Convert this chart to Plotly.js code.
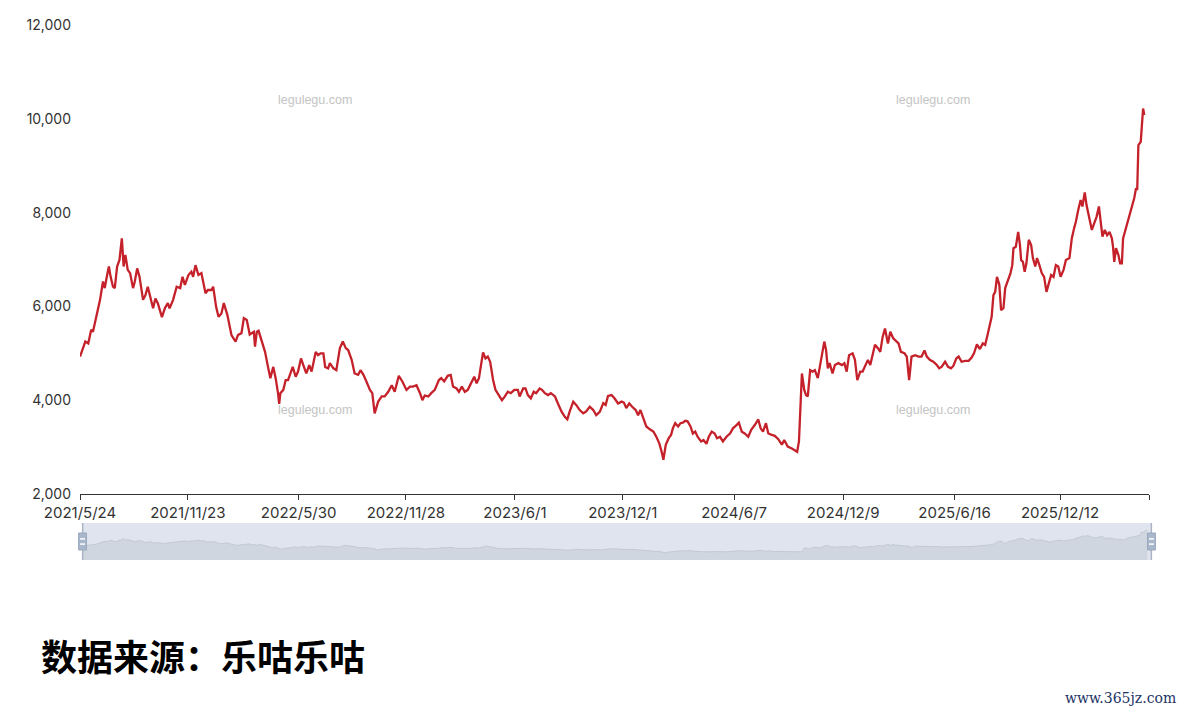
<!DOCTYPE html>
<html>
<head>
<meta charset="utf-8">
<script src="https://cdn.plot.ly/plotly-3.0.1.min.js"></script>
<style>
html,body{margin:0;padding:0;background:#fff;}
#chart{width:1186px;height:714px;}
</style>
</head>
<body>
<div id="chart"></div>
<script>
// ---- data ----
var dates = [
"2021-05-24","2021-06-02","2021-06-07","2021-06-12","2021-06-15","2021-06-21","2021-06-27","2021-07-02","2021-07-05","2021-07-08",
"2021-07-12","2021-07-15","2021-07-19","2021-07-22","2021-07-26","2021-07-30","2021-08-03","2021-08-06","2021-08-09","2021-08-13",
"2021-08-17","2021-08-22","2021-08-25","2021-08-29","2021-09-02","2021-09-08","2021-09-12","2021-09-16","2021-09-21","2021-09-25",
"2021-09-29","2021-10-03","2021-10-10","2021-10-15","2021-10-20","2021-10-23","2021-10-29","2021-11-04","2021-11-10","2021-11-14",
"2021-11-18","2021-11-24","2021-11-29","2021-12-02","2021-12-06","2021-12-11","2021-12-16","2021-12-23","2021-12-27","2022-01-02",
"2022-01-05","2022-01-10","2022-01-14","2022-01-19","2022-01-23","2022-01-29","2022-02-05","2022-02-12","2022-02-16","2022-02-22",
"2022-02-26","2022-03-03","2022-03-08","2022-03-12","2022-03-15","2022-03-17","2022-03-20","2022-03-23","2022-03-29","2022-04-03",
"2022-04-08","2022-04-12","2022-04-17","2022-04-21","2022-04-25","2022-04-27","2022-04-29","2022-05-04","2022-05-08","2022-05-12",
"2022-05-20","2022-05-25","2022-05-29","2022-06-03","2022-06-08","2022-06-12","2022-06-17","2022-06-21","2022-06-28","2022-07-02",
"2022-07-06","2022-07-11","2022-07-14","2022-07-19","2022-07-22","2022-07-28","2022-08-02","2022-08-08","2022-08-13","2022-08-18",
"2022-08-22","2022-08-28","2022-09-02","2022-09-08","2022-09-12","2022-09-17","2022-09-22","2022-09-28","2022-10-02","2022-10-06",
"2022-10-12","2022-10-18","2022-10-23","2022-10-29","2022-11-04","2022-11-09","2022-11-16","2022-11-22","2022-11-29","2022-12-05",
"2022-12-10","2022-12-16","2022-12-22","2022-12-26","2022-12-30","2023-01-05","2023-01-10","2023-01-16","2023-01-23","2023-01-27",
"2023-02-01","2023-02-07","2023-02-12","2023-02-16","2023-02-22","2023-02-26","2023-03-03","2023-03-08","2023-03-13","2023-03-19",
"2023-03-24","2023-03-28","2023-04-01","2023-04-05","2023-04-08","2023-04-12","2023-04-16","2023-04-20","2023-04-25","2023-04-29",
"2023-05-05","2023-05-10","2023-05-15","2023-05-20","2023-05-25","2023-05-31","2023-06-06","2023-06-09","2023-06-15","2023-06-19",
"2023-06-23","2023-06-28","2023-07-03","2023-07-07","2023-07-13","2023-07-17","2023-07-22","2023-07-27","2023-08-01","2023-08-08",
"2023-08-13","2023-08-19","2023-08-25","2023-08-29","2023-09-02","2023-09-08","2023-09-13","2023-09-19","2023-09-25","2023-09-30",
"2023-10-06","2023-10-12","2023-10-17","2023-10-23","2023-10-29","2023-11-02","2023-11-06","2023-11-12","2023-11-17","2023-11-23",
"2023-11-29","2023-12-03","2023-12-07","2023-12-12","2023-12-17","2023-12-23","2023-12-27","2023-12-31","2024-01-05","2024-01-10",
"2024-01-16","2024-01-22","2024-01-27","2024-02-01","2024-02-05","2024-02-08","2024-02-12","2024-02-17","2024-02-21","2024-02-24",
"2024-02-28","2024-03-04","2024-03-08","2024-03-12","2024-03-16","2024-03-20","2024-03-25","2024-03-29","2024-04-02","2024-04-06",
"2024-04-12","2024-04-16","2024-04-21","2024-04-25","2024-04-30","2024-05-05","2024-05-09","2024-05-14","2024-05-19","2024-05-25",
"2024-05-31","2024-06-05","2024-06-11","2024-06-15","2024-06-20","2024-06-25","2024-07-01","2024-07-06","2024-07-12","2024-07-18",
"2024-07-22","2024-07-26","2024-07-31","2024-08-04","2024-08-10","2024-08-15","2024-08-21","2024-08-27","2024-08-31","2024-09-06",
"2024-09-13","2024-09-18","2024-09-22","2024-09-25","2024-09-28","2024-09-30","2024-10-04","2024-10-07","2024-10-10","2024-10-14",
"2024-10-18","2024-10-22","2024-10-27","2024-10-31","2024-11-03","2024-11-07","2024-11-10","2024-11-13","2024-11-16","2024-11-21",
"2024-11-25","2024-12-01","2024-12-07","2024-12-11","2024-12-15","2024-12-19","2024-12-25","2024-12-29","2025-01-02","2025-01-07",
"2025-01-11","2025-01-15","2025-01-20","2025-01-24","2025-01-28","2025-02-01","2025-02-06","2025-02-10","2025-02-14","2025-02-18",
"2025-02-23","2025-02-27","2025-03-04","2025-03-08","2025-03-13","2025-03-17","2025-03-23","2025-03-27","2025-03-31","2025-04-04",
"2025-04-10","2025-04-16","2025-04-21","2025-04-26","2025-04-30","2025-05-05","2025-05-11","2025-05-17","2025-05-21","2025-05-25",
"2025-05-31","2025-06-05","2025-06-10","2025-06-14","2025-06-19","2025-06-23","2025-06-28","2025-07-04","2025-07-10","2025-07-15",
"2025-07-19","2025-07-24","2025-07-29","2025-08-03","2025-08-07","2025-08-11","2025-08-15","2025-08-18","2025-08-21","2025-08-24",
"2025-08-27","2025-08-31","2025-09-03","2025-09-07","2025-09-10","2025-09-14","2025-09-19","2025-09-22","2025-09-24","2025-09-28",
"2025-10-02","2025-10-05","2025-10-07","2025-10-10","2025-10-13","2025-10-16","2025-10-20","2025-10-24","2025-10-27","2025-10-31",
"2025-11-03","2025-11-07","2025-11-11","2025-11-15","2025-11-19","2025-11-23","2025-11-27","2025-12-01","2025-12-05","2025-12-09",
"2025-12-13","2025-12-18","2025-12-22","2025-12-28","2026-01-01","2026-01-05","2026-01-08","2026-01-12","2026-01-16","2026-01-19",
"2026-01-23","2026-01-26","2026-01-31","2026-02-04","2026-02-08","2026-02-12","2026-02-16","2026-02-19","2026-02-22","2026-02-26",
"2026-03-02","2026-03-06","2026-03-10","2026-03-12","2026-03-14","2026-03-17","2026-03-21","2026-03-24","2026-03-27","2026-03-29",
"2026-04-03","2026-04-06","2026-04-10","2026-04-14","2026-04-17","2026-04-20","2026-04-22","2026-04-24","2026-04-28","2026-04-30",
"2026-05-02","2026-05-04"
];
var values = [
4930,5250,5210,5500,5460,5820,6140,6530,6390,6600,
6850,6630,6420,6390,6850,6990,7450,6850,7100,6780,
6710,6390,6530,6810,6630,6140,6240,6420,6140,5960,
6170,6070,5770,5960,6070,5960,6140,6420,6390,6630,
6460,6670,6740,6630,6880,6670,6710,6280,6350,6350,
6420,5990,5780,5850,6070,5820,5390,5250,5390,5430,
5750,5710,5400,5430,5460,5140,5460,5480,5250,5030,
4710,4470,4710,4470,4150,3920,4150,4220,4430,4430,
4710,4500,4610,4890,4710,4570,4750,4610,5030,4960,
5000,5000,4710,4680,4790,4680,4640,5110,5250,5110,
5070,4860,4570,4540,4640,4540,4400,4220,4150,3720,
3970,4080,4080,4180,4320,4180,4520,4400,4220,4290,
4290,4320,4150,4000,4100,4080,4150,4220,4430,4470,
4400,4520,4540,4290,4250,4180,4290,4180,4220,4360,
4500,4360,4470,4790,5020,4890,4930,4820,4430,4220,
4110,4000,4080,4180,4150,4220,4220,4080,4250,4250,
4110,4040,4180,4150,4250,4220,4150,4110,4150,4080,
3930,3760,3640,3590,3760,3970,3900,3790,3720,3760,
3860,3790,3680,3750,3940,3900,4090,4110,4040,3930,
3970,3950,3830,3930,3860,3790,3680,3790,3610,3440,
3380,3330,3220,3080,2900,2730,3050,3190,3260,3400,
3510,3440,3510,3520,3560,3550,3440,3290,3330,3220,
3120,3150,3070,3220,3330,3290,3190,3220,3120,3220,
3290,3400,3470,3520,3330,3290,3220,3370,3470,3590,
3400,3330,3510,3290,3260,3240,3170,3050,3150,3010,
2970,2920,2900,3120,3860,4570,4220,4110,4080,4640,
4610,4640,4470,4790,4930,5250,5070,4680,4790,4570,
4750,4790,4750,4790,4610,4960,5000,4860,4430,4610,
4610,4710,4860,4750,4960,5180,5110,5030,5350,5530,
5210,5460,5320,5280,5210,5030,5000,4930,4430,4930,
4960,4930,4930,5060,4930,4860,4820,4750,4680,4710,
4820,4710,4680,4730,4890,4930,4820,4840,4840,4910,
5000,5190,5090,5210,5180,5390,5600,5780,6240,6310,
6630,6460,5920,5960,6390,6530,6710,6880,7240,7270,
7590,7310,6990,6950,6740,6920,7420,7310,7030,6850,
7030,6880,6710,6630,6310,6490,6670,6630,6880,6850,
6630,6780,6990,7030,7450,7670,7810,8060,8270,8130,
8430,8160,7880,7630,7770,7910,8130,7810,7490,7630,
7520,7590,7450,7270,6950,7240,7100,6920,6920,7450,
7670,7840,8020,8200,8310,8520,8480,9440,9510,9870,
10220,10080
];
var tickDates  = ["2021-05-24","2021-11-23","2022-05-30","2022-11-28","2023-06-01","2023-12-01","2024-06-07","2024-12-09","2025-06-16","2025-12-12","2026-05-12"];
var tickLabels = ["2021/5/24","2021/11/23","2022/5/30","2022/11/28","2023/6/1","2023/12/1","2024/6/7","2024/12/9","2025/6/16","2025/12/12",""];
var yTicks = [2000,4000,6000,8000,10000,12000];
var xRange = ["2021-05-24","2026-05-12"];
var watermark = "legulegu.com";
var sourceText = "数据来源：乐咕乐咕";
var siteText = "www.365jz.com";

// ---- chart ----
var lineTrace = {
  x: dates, y: values, type: "scatter", mode: "lines",
  line: {color: "#c5212a", width: 2.3},
  xaxis: "x", yaxis: "y", hoverinfo: "x+y", showlegend: false
};
var shadowTrace = {
  x: dates, y: values, type: "scatter", mode: "lines",
  fill: "tozeroy", fillcolor: "#d0d6e0",
  line: {color: "#bcc4d0", width: 0.8},
  xaxis: "x2", yaxis: "y2", hoverinfo: "skip", showlegend: false
};

var yFont = {family: "Inter, 'Liberation Sans', Arial, sans-serif", size: 14, color: "#333"};
var xFont = {family: "Inter, 'Liberation Sans', Arial, sans-serif", size: 15, color: "#333"};
var wmFont = {family: "'Liberation Sans', Arial, sans-serif", size: 12.5, color: "#c4c4c4"};

function wm(px, py) {
  return {text: watermark, xref: "paper", yref: "paper", x: px, y: py,
          showarrow: false, xanchor: "center", yanchor: "middle", font: wmFont};
}

var layout = {
  width: 1186, height: 714,
  margin: {l: 80, r: 34, t: 25, b: 154, pad: 0},
  paper_bgcolor: "#fff", plot_bgcolor: "rgba(0,0,0,0)",
  showlegend: false,
  xaxis: {
    type: "date", domain: [0, 0.99720], anchor: "y", range: xRange,
    tickmode: "array", tickvals: tickDates, ticktext: tickLabels,
    ticks: "outside", ticklen: 5, tickcolor: "#333", tickwidth: 1,
    showline: true, linecolor: "#333", linewidth: 1,
    showgrid: false, zeroline: false, tickfont: xFont, fixedrange: true
  },
  yaxis: {
    domain: [0.12336, 1], anchor: "x", range: [2000, 12000],
    tickmode: "array", tickvals: yTicks, tickformat: ",d",
    showgrid: false, zeroline: false, showline: false, ticks: "",
    ticklabelstandoff: 8,
    tickfont: yFont, fixedrange: true
  },
  xaxis2: {
    type: "date", domain: [0.00187, 1], anchor: "y2", range: xRange,
    showticklabels: false, showgrid: false, zeroline: false, showline: false, ticks: "", fixedrange: true
  },
  yaxis2: {
    domain: [0, 0.06916], anchor: "x2", range: [480, 12470],
    showticklabels: false, showgrid: false, zeroline: false, showline: false, ticks: "", fixedrange: true
  },
  shapes: [
    {type: "rect", xref: "x2 domain", yref: "y2 domain", x0: 0, x1: 1, y0: 0, y1: 1,
     fillcolor: "#dfe4ee", line: {width: 0}, layer: "below"},
    {type: "line", xref: "x2 domain", yref: "y2 domain", x0: 0.0006, x1: 0.0006, y0: 0, y1: 1,
     line: {color: "#aab4c4", width: 1.5}},
    {type: "line", xref: "x2 domain", yref: "y2 domain", x0: 0.9994, x1: 0.9994, y0: 0, y1: 1,
     line: {color: "#aab4c4", width: 1.5}},
    {type: "rect", xref: "x2 domain", yref: "y2 domain", x0: -0.0032, x1: 0.0042, y0: 0.27, y1: 0.73,
     fillcolor: "#a9b7cc", line: {color: "#9aa8be", width: 1}},
    {type: "line", xref: "x2 domain", yref: "y2 domain", x0: -0.0018, x1: 0.0028, y0: 0.57, y1: 0.57,
     line: {color: "#ffffff", width: 1.5}},
    {type: "line", xref: "x2 domain", yref: "y2 domain", x0: -0.0018, x1: 0.0028, y0: 0.43, y1: 0.43,
     line: {color: "#ffffff", width: 1.5}},
    {type: "rect", xref: "x2 domain", yref: "y2 domain", x0: 0.9958, x1: 1.0032, y0: 0.27, y1: 0.73,
     fillcolor: "#a9b7cc", line: {color: "#9aa8be", width: 1}},
    {type: "line", xref: "x2 domain", yref: "y2 domain", x0: 0.9972, x1: 1.0018, y0: 0.57, y1: 0.57,
     line: {color: "#ffffff", width: 1.5}},
    {type: "line", xref: "x2 domain", yref: "y2 domain", x0: 0.9972, x1: 1.0018, y0: 0.43, y1: 0.43,
     line: {color: "#ffffff", width: 1.5}}
  ],
  annotations: [
    wm(0.2192, 0.8598), wm(0.7957, 0.8598), wm(0.2192, 0.2804), wm(0.7957, 0.2804),
    {text: "<b>" + sourceText + "</b>", xref: "paper", yref: "paper", x: -0.0385, y: -0.1776,
     xanchor: "left", yanchor: "middle", showarrow: false,
     font: {family: "'Noto Sans CJK SC', sans-serif", size: 36, color: "#000"}},
    {text: siteText, xref: "paper", yref: "paper", x: 1.0243, y: -0.258,
     xanchor: "right", yanchor: "middle", showarrow: false,
     font: {family: "'DejaVu Serif', serif", size: 14, color: "#1c3364"}}
  ]
};

Plotly.newPlot("chart", [shadowTrace, lineTrace], layout, {displayModeBar: false, staticPlot: false});
</script>
</body>
</html>
